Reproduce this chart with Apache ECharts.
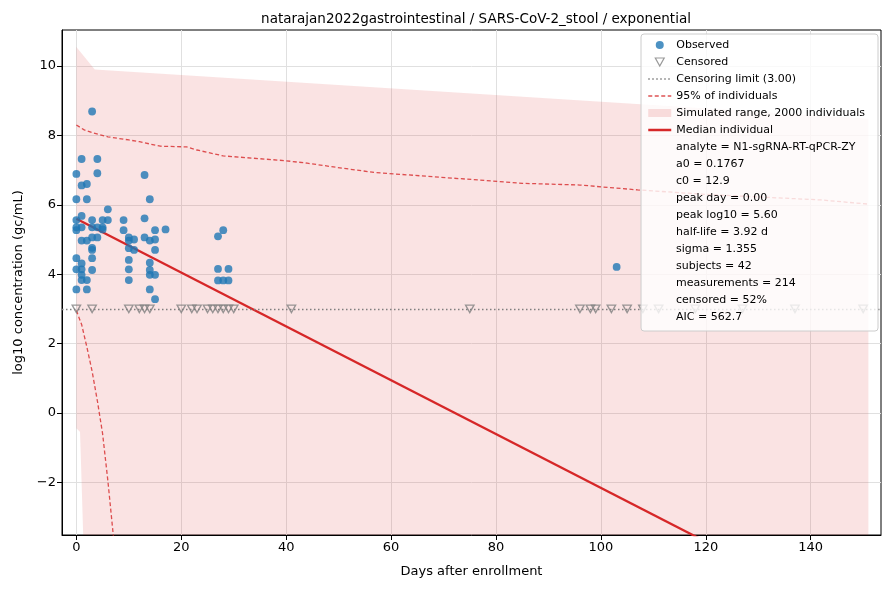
<!DOCTYPE html>
<html>
<head>
<meta charset="utf-8">
<title>natarajan2022gastrointestinal</title>
<script src="https://cdn.jsdelivr.net/npm/echarts@6/dist/echarts.min.js"></script>
<style>
  html, body { margin: 0; padding: 0; background: #fff; }
  #chart { width: 890px; height: 590px; }
</style>
</head>
<body>
<div id="chart"></div>
<script>
const TITLE = 'natarajan2022gastrointestinal / SARS-CoV-2_stool / exponential'
const X_TICKS = [0, 20, 40, 60, 80, 100, 120, 140]
const Y_TICKS = [-2, 0, 2, 4, 6, 8, 10]
const CENSOR_LIMIT = 3.0

// observed measurements (day, log10 gc/mL)
const observedDays = [
  0, 0, 0, 0, 0, 0, 0, 0,
  1, 1, 1, 1, 1, 1, 1, 1, 1,
  2, 2, 2, 2, 2,
  3, 3, 3, 3, 3, 3, 3, 3,
  4, 4, 4, 4,
  5, 5, 5,
  6, 6,
  9, 9,
  10, 10, 10, 10, 10, 10,
  11, 11,
  13, 13, 13,
  14, 14, 14, 14, 14, 14,
  15, 15, 15, 15, 15,
  17,
  27, 27, 27,
  28, 28,
  29, 29,
  103
]
const observedLog10 = [
  6.89, 6.16, 5.56, 5.35, 5.27, 4.46, 4.14, 3.56,
  7.32, 6.56, 5.68, 5.35, 4.97, 4.31, 4.14, 3.98, 3.83,
  6.60, 6.16, 4.97, 3.83, 3.56,
  8.69, 5.56, 5.35, 5.06, 4.76, 4.70, 4.46, 4.12,
  7.32, 6.91, 5.35, 5.06,
  5.56, 5.35, 5.29,
  5.87, 5.56,
  5.56, 5.27,
  5.06, 4.97, 4.75, 4.41, 4.14, 3.83,
  5.00, 4.70,
  6.86, 5.61, 5.06,
  6.16, 4.97, 4.33, 4.12, 3.98, 3.56,
  5.27, 5.00, 4.70, 3.98, 3.28,
  5.29,
  5.09, 4.15, 3.82,
  5.27, 3.82,
  4.15, 3.82,
  4.21
]

// censored measurements, plotted at the limit
const censoredDays = [
  0, 3, 10, 12, 13, 14, 20, 22, 23, 25, 26, 27, 28, 29, 30, 41,
  75, 96, 98, 99, 102, 105, 108, 111, 118, 127, 137, 150
]

// simulated range of 2000 individuals
const bandDays = [0, 0.7, 1.4, 3.5, 151]
const bandHigh = [10.55, 10.42, 10.29, 9.90, 8.48]
const bandLow = [-0.44, -0.55, -4.0, -4.0, -4.0]

// 95% of individuals
const upperDays = [0, 1.5, 3, 6, 10, 12, 16, 21, 23, 28, 40, 44, 51, 57, 68, 79, 85, 96, 107, 120, 142, 151]
const upper95 = [8.30, 8.16, 8.08, 7.96, 7.87, 7.82, 7.69, 7.67, 7.58, 7.41, 7.27, 7.20, 7.05, 6.93, 6.81, 6.69, 6.62, 6.57, 6.43, 6.30, 6.14, 6.02]
const lowerDays = [0, 1, 2, 3, 4, 5, 6, 7, 8]
const lower95 = [2.95, 2.55, 1.90, 1.20, 0.35, -0.60, -1.95, -3.47, -5.00]

// median individual
const medianDays = [0, 151]
const medianLog10 = [5.60, -6.12]

const statLines = [
  'analyte = N1-sgRNA-RT-qPCR-ZY',
  'a0 = 0.1767',
  'c0 = 12.9',
  'peak day = 0.00',
  'peak log10 = 5.60',
  'half-life = 3.92 d',
  'sigma = 1.355',
  'subjects = 42',
  'measurements = 214',
  'censored = 52%',
  'AIC = 562.7'
]

const FONT = 'DejaVu Sans'
const RED = '#d62728'
const RED_DASH = 'rgba(214,39,40,0.8)'
const BAND = 'rgba(214,39,40,0.13)'
const BLUE = '#1f77b4'
const GREY = '#7f7f7f'
const TRI_DOWN = 'path://M0,0L10,0L5,9Z'
const NO_SYMBOL = { color: 'rgba(0,0,0,0)', borderColor: 'rgba(0,0,0,0)', borderWidth: 0, opacity: 0 }

const pairs = (xs, ys) => xs.map((x, i) => [x, ys[i]])
const minus = v => (v < 0 ? '\u2212' + Math.abs(v) : String(v))

const chart = echarts.init(document.getElementById('chart'))

const legendTop = 36.5
const rowH = 17
const legendItems = 6

const graphics = [{
  type: 'rect',
  z: 10,
  shape: { x: 641, y: 34, width: 237, height: 297, r: 3 },
  style: { fill: 'rgba(255,255,255,0.8)', stroke: '#cccccc', lineWidth: 1 }
}]
statLines.forEach((t, i) => {
  graphics.push({
    type: 'text',
    z: 11,
    x: 676,
    y: legendTop + rowH * (legendItems + i) + rowH / 2,
    style: { text: t, fill: '#000', font: '11px "' + FONT + '"', verticalAlign: 'middle' }
  })
})

// band polygon: upper edge forward, lower edge back
function renderBand(params, api) {
  if (params.dataIndex !== 0) return
  const pts = []
  bandDays.forEach((d, i) => pts.push(api.coord([d, bandHigh[i]])))
  for (let i = bandDays.length - 1; i >= 0; i--) pts.push(api.coord([bandDays[i], bandLow[i]]))
  return {
    type: 'polygon',
    shape: { points: pts },
    style: { fill: BAND }
  }
}

const option = {
  animation: false,
  textStyle: { fontFamily: FONT },
  title: {
    text: TITLE,
    left: 471,
    top: 7,
    textAlign: 'center',
    textStyle: { fontSize: 13.5, fontWeight: 'normal', color: '#000', fontFamily: FONT }
  },
  grid: {
    left: 62, right: 9, top: 30, bottom: 55,
    show: true, borderColor: '#000', borderWidth: 1, backgroundColor: 'transparent'
  },
  xAxis: {
    type: 'value',
    min: -2.74,
    max: 153.4,
    name: 'Days after enrollment',
    nameLocation: 'middle',
    nameGap: 30,
    nameTextStyle: { fontSize: 13, color: '#000', fontFamily: FONT },
    axisLine: { show: true, onZero: false, lineStyle: { color: '#000', width: 1 } },
    axisTick: { show: true, length: 5, customValues: X_TICKS, lineStyle: { color: '#000' } },
    axisLabel: { customValues: X_TICKS, fontSize: 13, color: '#000', margin: 6, fontFamily: FONT, formatter: minus },
    splitLine: { show: true, lineStyle: { color: '#e0e0e0', width: 1 } }
  },
  yAxis: {
    type: 'value',
    min: -3.52,
    max: 11.04,
    name: 'log10 concentration (gc/mL)',
    nameLocation: 'middle',
    nameGap: 37,
    nameTextStyle: { fontSize: 13, color: '#000', fontFamily: FONT },
    axisLine: { show: true, onZero: false, lineStyle: { color: '#000', width: 1 } },
    axisTick: { show: true, length: 5, customValues: Y_TICKS, lineStyle: { color: '#000' } },
    axisLabel: { customValues: Y_TICKS, fontSize: 13, color: '#000', margin: 6, fontFamily: FONT, formatter: minus },
    splitLine: { show: true, lineStyle: { color: '#e0e0e0', width: 1 } }
  },
  legend: {
    orient: 'vertical',
    left: 647,
    top: legendTop,
    padding: 0,
    itemGap: 0,
    itemWidth: 23,
    itemHeight: 8,
    selectedMode: false,
    z: 12,
    textStyle: { fontSize: 11, color: '#000', lineHeight: rowH, fontFamily: FONT },
    data: [
      { name: 'Observed', icon: 'circle', itemStyle: { color: BLUE, opacity: 0.8 } },
      { name: 'Censored', icon: TRI_DOWN, itemStyle: { color: 'rgba(0,0,0,0)', borderColor: GREY, borderWidth: 1.2 } },
      { name: 'Censoring limit (3.00)', itemStyle: NO_SYMBOL, lineStyle: { color: GREY, width: 1.3, type: [1.5, 2.5] } },
      { name: '95% of individuals', itemStyle: NO_SYMBOL, lineStyle: { color: RED_DASH, width: 1.3, type: [4, 2.5] } },
      { name: 'Simulated range, 2000 individuals', icon: 'rect', itemStyle: { color: 'rgba(214,39,40,0.15)' } },
      { name: 'Median individual', itemStyle: NO_SYMBOL, lineStyle: { color: RED, width: 2.5 } }
    ]
  },
  graphic: graphics,
  series: [
    {
      name: 'Simulated range, 2000 individuals',
      type: 'custom',
      clip: true,
      silent: true,
      renderItem: renderBand,
      data: pairs(bandDays, bandHigh),
      itemStyle: { color: BAND },
      z: 1
    },
    {
      name: 'Censoring limit (3.00)',
      type: 'line',
      data: [],
      symbol: 'none',
      lineStyle: { color: GREY, width: 1.3, type: [1.5, 2.5] },
      itemStyle: { color: GREY },
      markLine: {
        silent: true,
        symbol: 'none',
        label: { show: false },
        lineStyle: { color: GREY, width: 1.3, type: [1.5, 2.5] },
        data: [{ yAxis: CENSOR_LIMIT }]
      },
      z: 3
    },
    {
      name: '95% of individuals',
      type: 'line',
      data: pairs(upperDays, upper95),
      symbol: 'none',
      lineStyle: { color: RED_DASH, width: 1.3, type: [4, 2.5] },
      itemStyle: { color: RED_DASH },
      z: 3
    },
    {
      name: '95% of individuals',
      type: 'line',
      data: pairs(lowerDays, lower95),
      symbol: 'none',
      lineStyle: { color: RED_DASH, width: 1.3, type: [4, 2.5] },
      itemStyle: { color: RED_DASH },
      z: 3
    },
    {
      name: 'Median individual',
      type: 'line',
      data: pairs(medianDays, medianLog10),
      symbol: 'none',
      lineStyle: { color: RED, width: 2.3 },
      itemStyle: { color: RED },
      z: 4
    },
    {
      name: 'Observed',
      type: 'scatter',
      data: pairs(observedDays, observedLog10),
      symbol: 'circle',
      symbolSize: 7.8,
      itemStyle: { color: BLUE, opacity: 0.8 },
      z: 5
    },
    {
      name: 'Censored',
      type: 'scatter',
      data: censoredDays.map(d => [d, CENSOR_LIMIT]),
      symbol: TRI_DOWN,
      symbolSize: [8.5, 7.5],
      itemStyle: { color: 'rgba(0,0,0,0)', borderColor: GREY, borderWidth: 1.3 },
      z: 5
    }
  ]
}

chart.setOption(option)
window.addEventListener('resize', () => chart.resize())
</script>
</body>
</html>
